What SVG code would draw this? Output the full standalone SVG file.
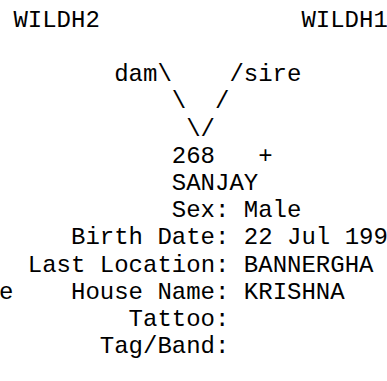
<svg xmlns="http://www.w3.org/2000/svg" width="387" height="381" viewBox="0 0 387 381">
<style>
text{font-family:"Liberation Mono","DejaVu Sans Mono",monospace;font-size:24px;fill:#000;white-space:pre}
</style>
<rect width="387" height="381" fill="#fff"/>
<g id="node-wildh2"><text x="13.4" y="26.8">WILDH2</text></g>
<g id="node-wildh1"><text x="301.4" y="26.8">WILDH1</text></g>
<g id="connectors">
<text x="114.2" y="81.2">dam\</text>
<text x="229.4" y="81.2">/sire</text>
<text x="171.8" y="108.4">\</text>
<text x="215" y="108.4">/</text>
<text x="186.2" y="135.6">\/</text>
</g>
<g id="node-268">
<text x="171.8" y="162.8" xml:space="preserve">268   +</text>
<text x="171.8" y="190">SANJAY</text>
<text x="171.8" y="217.1">Sex: Male</text>
<text x="71" y="244.3">Birth Date: 22 Jul 199</text>
<text x="27.8" y="271.5">Last Location: BANNERGHA</text>
<text x="71" y="298.7">House Name: KRISHNA</text>
<text x="128.6" y="325.9">Tattoo:</text>
<text x="99.8" y="353.1">Tag/Band:</text>
</g>
<g id="clipped-left"><text x="-1" y="298.7">e</text></g>
</svg>
